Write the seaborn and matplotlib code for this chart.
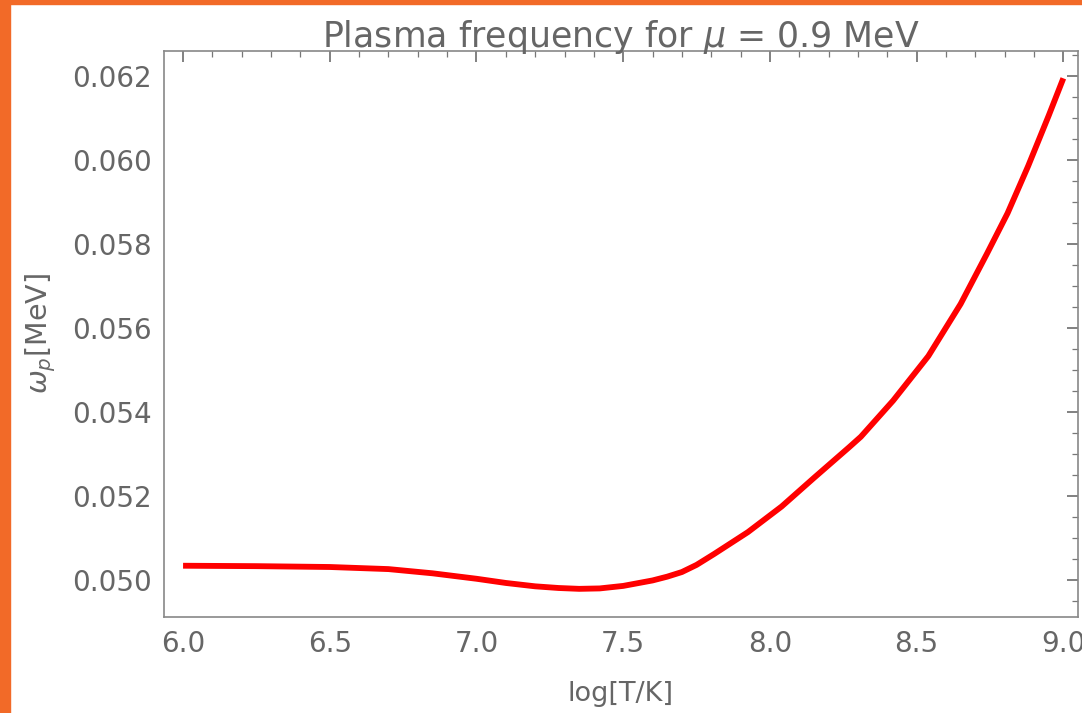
import numpy as np
import pandas as pd
import matplotlib
matplotlib.use("Agg")
import matplotlib.pyplot as plt
from matplotlib.patches import Rectangle
from matplotlib.ticker import MultipleLocator, FormatStrFormatter
import seaborn as sns

log_T = [6.0, 6.25, 6.5, 6.7, 6.85, 7.0, 7.1, 7.2, 7.28, 7.35, 7.42, 7.5, 7.6, 7.65,
         7.7, 7.75, 7.81, 7.925, 8.04, 8.15, 8.27, 8.31, 8.42, 8.54, 8.65, 8.74,
         8.81, 8.88, 8.95, 9.0]
omega_p = [0.05034, 0.05033, 0.05031, 0.05026, 0.05016, 0.05003, 0.04993, 0.04985,
           0.04981, 0.04979, 0.04980, 0.04986, 0.04999, 0.05008, 0.05019, 0.05036,
           0.05062, 0.05114, 0.05175, 0.05243, 0.05316, 0.05341, 0.05427, 0.05533,
           0.05657, 0.05777, 0.05873, 0.05985, 0.06105, 0.06194]

title = "Plasma frequency for $\\mu$ = 0.9 MeV"
xlabel = "log[T/K]"
ylabel = "$\\omega_p$[MeV]"

df = pd.DataFrame({"logT": log_T, "wp": omega_p})

sns.set_style("white")
plt.rcParams["font.family"] = ["DejaVu Sans"]
plt.rcParams["mathtext.fontset"] = "dejavusans"

W, H = 1082, 713
fig = plt.figure(figsize=(W / 100, H / 100), dpi=100)
ax = fig.add_axes([164 / W, 1 - 617 / H, (1078 - 164) / W, (617 - 51) / H])

sns.lineplot(data=df, x="logT", y="wp", ax=ax, color="#ff0000", linewidth=4.2,
             solid_capstyle="butt", solid_joinstyle="round")

ax.set_xlim(5.935, 9.05)
ax.set_ylim(0.04912, 0.06259)

gray = "#666666"
ax.xaxis.set_major_locator(MultipleLocator(0.5))
ax.xaxis.set_minor_locator(MultipleLocator(0.1))
ax.yaxis.set_major_locator(MultipleLocator(0.002))
ax.yaxis.set_minor_locator(MultipleLocator(0.0005))
ax.xaxis.set_major_formatter(FormatStrFormatter("%.1f"))
ax.yaxis.set_major_formatter(FormatStrFormatter("%.3f"))
ax.tick_params(which="both", direction="in", top=True, right=True,
               labeltop=False, labelright=False, color="#777777")
ax.tick_params(which="major", length=8, width=1.3, labelsize=20, labelcolor=gray, pad=9)
ax.tick_params(which="minor", length=4.5, width=0.9)
for s in ax.spines.values():
    s.set_color("#888888")
    s.set_linewidth(1.2)

ax.set_title(title, fontsize=25, color=gray, pad=3)
ax.set_xlabel(xlabel, fontsize=19.5, color=gray, labelpad=17)
ax.set_ylabel(ylabel, fontsize=20.5, color=gray, labelpad=10)

orange = "#f26a28"
fig.patches.append(Rectangle((0, 0), 10 / W, 1, transform=fig.transFigure,
                             color=orange, zorder=10))
fig.patches.append(Rectangle((0, 1 - 4 / H), 1, 4 / H, transform=fig.transFigure,
                             color=orange, zorder=10))

fig.savefig("out.png", dpi=100)
